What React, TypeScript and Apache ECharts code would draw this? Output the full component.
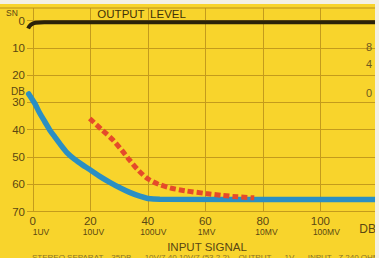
import React, { useEffect, useRef } from "react";
import * as echarts from "echarts";

const xTicks = [0, 20, 40, 60, 80, 100];
const xUnits = ["1UV", "10UV", "100UV", "1MV", "10MV", "100MV"];
const yTicks = [0, 10, 20, 30, 40, 50, 60, 70];
const rightLabels = ["8", "4", "0"];

const outputLevel: [number, number][] = [
  [-1.6, 2.9], [-0.6, 1.5], [1, 0.8], [4, 0.65], [119, 0.65],
];
const monoCurve: [number, number][] = [
  [-1.4, 26.9], [0.7, 30.4], [2.4, 33.9], [4.2, 37.1], [5.9, 40.1], [7.7, 42.7],
  [9.4, 45.1], [11.8, 48.3], [14.6, 50.9], [17.4, 53.0], [19.8, 54.6], [23.3, 57.1],
  [26.8, 59.3], [30.3, 61.3], [33.7, 63.0], [37.2, 64.4], [40, 65.2], [44.2, 65.5],
  [119, 65.6],
];
const stereoCurve: [number, number][] = [
  [19.8, 35.9], [24, 40], [27.9, 43.8], [31, 47.6], [33.7, 51.2], [37, 55.2],
  [40, 58.0], [43.5, 59.9], [47.6, 61.3], [53, 62.4], [60.2, 63.4], [66, 64.1],
  [71, 64.6], [77, 65],
];

const FONT = "'Liberation Sans Narrow', 'Liberation Sans', Arial, sans-serif";
const INK = "#5a4712";

export default function App() {
  const ref = useRef<HTMLDivElement>(null);
  useEffect(() => {
    if (!ref.current) return;
    const chart = echarts.init(ref.current, undefined, { renderer: "svg" });
    chart.setOption({
      animation: false,
      backgroundColor: "#f8d42c",
      grid: { left: 27, right: 4, top: 8, bottom: 37, containLabel: false },
      xAxis: [
        {
          type: "value",
          min: -2,
          max: 119,
          axisLine: { show: false },
          axisTick: { show: false, customValues: xTicks },
          splitLine: { show: true, lineStyle: { color: "#c49b1c", width: 1 } },
          axisLabel: {
            customValues: xTicks,
            color: INK,
            fontFamily: FONT,
            fontSize: 11.5,
            lineHeight: 11,
            margin: 4,
          },
          name: "INPUT SIGNAL",
          nameLocation: "middle",
          nameGap: 30,
          nameTextStyle: { color: INK, fontFamily: FONT, fontSize: 11.5, lineHeight: 11, padding: [0, 0, 0, 12] },
        },
        {
          type: "value",
          min: -2,
          max: 119,
          position: "bottom",
          axisLine: { show: false },
          axisTick: { show: false },
          splitLine: { show: false },
          axisLabel: {
            customValues: xTicks.map((t) => (t === 0 ? 0 : t - 2.6)),
            formatter: (v: number) => xUnits[Math.round(v / 20)],
            align: "left",
            color: INK,
            fontFamily: FONT,
            fontSize: 8.5,
            lineHeight: 8,
            margin: 16,
          },
        },
      ],
      yAxis: {
        type: "value",
        inverse: true,
        min: -4.6,
        max: 70,
        axisLine: { show: false },
        axisTick: { show: false, customValues: yTicks },
        splitLine: { show: true, lineStyle: { color: "#c49b1c", width: 1 } },
        axisLabel: {
          customValues: yTicks,
          color: INK,
          fontFamily: FONT,
          fontSize: 11.5,
          lineHeight: 11,
          margin: 2,
        },
      },
      graphic: [
        { type: "rect", shape: { x: 0, y: 0, width: 379, height: 4 }, style: { fill: "#f3f0e4" }, z: 10 },
        { type: "rect", shape: { x: 375, y: 0, width: 4, height: 258 }, style: { fill: "#f3f0e4" }, z: 10 },
        { type: "line", shape: { x1: 0, y1: 8, x2: 375, y2: 8 }, style: { stroke: "#b8901a", lineWidth: 1.2 }, z: 5 },
        { type: "text", x: 6, y: 8, style: { text: "SN", fill: INK, font: `8.5px ${FONT}` }, z: 6 },
        { type: "text", x: 25, y: 91, style: { text: "DB", fill: INK, font: `10px ${FONT}`, textAlign: "right", textVerticalAlign: "middle" }, z: 6 },
        { type: "text", x: 121, y: 14, style: { text: "OUTPUT", fill: "#3e3208", font: `11.5px ${FONT}`, textAlign: "center", textVerticalAlign: "middle" }, z: 6 },
        { type: "text", x: 168, y: 14, style: { text: "LEVEL", fill: "#3e3208", font: `11.5px ${FONT}`, textAlign: "center", textVerticalAlign: "middle" }, z: 6 },
        { type: "text", x: 372, y: 47, style: { text: rightLabels[0], fill: "#6e5a20", font: `11px ${FONT}`, textAlign: "right", textVerticalAlign: "middle" }, z: 6 },
        { type: "text", x: 372, y: 64, style: { text: rightLabels[1], fill: "#6e5a20", font: `11px ${FONT}`, textAlign: "right", textVerticalAlign: "middle" }, z: 6 },
        { type: "text", x: 372, y: 93, style: { text: rightLabels[2], fill: "#6e5a20", font: `11px ${FONT}`, textAlign: "right", textVerticalAlign: "middle" }, z: 6 },
        { type: "text", x: 376, y: 229, style: { text: "DB", fill: INK, font: `12px ${FONT}`, textAlign: "right", textVerticalAlign: "middle" }, z: 6 },
        {
          type: "text",
          x: 32,
          y: 257,
          style: {
            text: "STEREO SEPARAT.   35DB      10V/7 40 10V/7 (53 2.2)    OUTPUT      1V      INPUT   Z 240 OHM",
            fill: "#8c7426",
            font: `8px ${FONT}`,
            textVerticalAlign: "middle",
          },
          z: 6,
        },
      ],
      series: [
        {
          type: "line",
          data: outputLevel,
          smooth: 0.5,
          showSymbol: false,
          clip: false,
          lineStyle: { color: "#2b2209", width: 4 },
          z: 3,
        },
        {
          type: "line",
          data: monoCurve,
          smooth: 0.3,
          showSymbol: false,
          clip: false,
          lineStyle: { color: "#2b8fc3", width: 5.5, cap: "round" },
          z: 3,
        },
        {
          type: "line",
          data: stereoCurve,
          smooth: 0.3,
          showSymbol: false,
          clip: false,
          lineStyle: { color: "#e54a2a", width: 5, type: [6, 3] },
          z: 4,
        },
      ],
    });
    return () => chart.dispose();
  }, []);
  return (
    <div
      ref={ref}
      style={{ position: "fixed", left: 0, top: 0, width: 379, height: 258 }}
    />
  );
}
